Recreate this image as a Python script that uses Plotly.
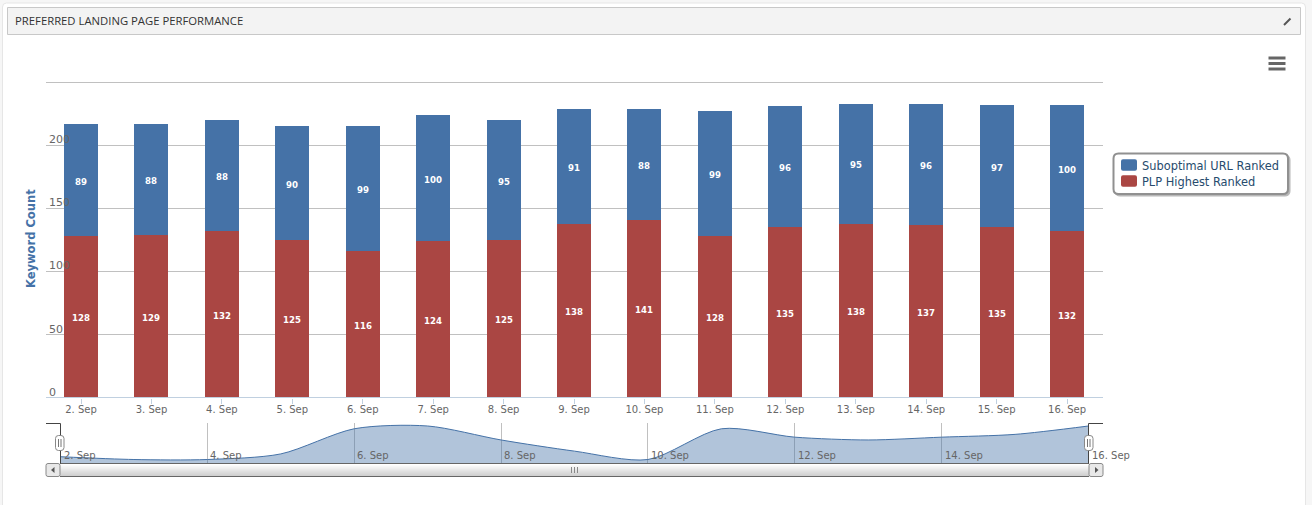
import plotly.graph_objects as go

categories = ["2. Sep","3. Sep","4. Sep","5. Sep","6. Sep","7. Sep","8. Sep","9. Sep","10. Sep","11. Sep","12. Sep","13. Sep","14. Sep","15. Sep","16. Sep"]
suboptimal = [89,88,88,90,99,100,95,91,88,99,96,95,96,97,100]
plp = [128,129,132,125,116,124,125,138,141,128,135,138,137,135,132]
y_ticks = [0,50,100,150,200,250]
y_tick_labels = ["0","50","100","150","200"]
nav_labels = categories[0::2]

W, H = 1312, 505
BLUE, RED = "#4572A7", "#AA4643"
FONT = "DejaVu Sans"

def px(x): return x / W
def py(y): return 1 - y / H

def rr(x0, y0, x1, y1, r):
    return (f"M{px(x0+r)},{py(y0)} L{px(x1-r)},{py(y0)} Q{px(x1)},{py(y0)} {px(x1)},{py(y0+r)} "
            f"L{px(x1)},{py(y1-r)} Q{px(x1)},{py(y1)} {px(x1-r)},{py(y1)} "
            f"L{px(x0+r)},{py(y1)} Q{px(x0)},{py(y1)} {px(x0)},{py(y1-r)} "
            f"L{px(x0)},{py(y0+r)} Q{px(x0)},{py(y0)} {px(x0+r)},{py(y0)} Z")

def rect(x0, y0, x1, y1, fill, line=None, lw=1, layer="below"):
    return dict(type="rect", xref="paper", yref="paper", x0=px(x0), x1=px(x1), y0=py(y1), y1=py(y0),
                fillcolor=fill, line=dict(color=line or fill, width=lw if line else 0), layer=layer)

def seg(x0, y0, x1, y1, color, lw=1, layer="above"):
    return dict(type="line", xref="paper", yref="paper", x0=px(x0), x1=px(x1), y0=py(y0), y1=py(y1),
                line=dict(color=color, width=lw), layer=layer)

def path(d, fill, line, lw=1, layer="above"):
    return dict(type="path", xref="paper", yref="paper", path=d, fillcolor=fill,
                line=dict(color=line, width=lw), layer=layer)

fig = go.Figure()
fig.add_bar(name="PLP Highest Ranked", x=categories, y=plp, marker_color=RED, marker_line_width=0,
            xaxis="x", yaxis="y", showlegend=False, width=0.483)
fig.add_bar(name="Suboptimal URL Ranked", x=categories, y=suboptimal, marker_color=BLUE, marker_line_width=0,
            xaxis="x", yaxis="y", showlegend=False, width=0.483)
# legend rows: two one-row legends give the tight row spacing; swatches are the rounded shapes below
hidden = dict(color="rgba(0,0,0,0)", opacity=0, line=dict(width=0, color="rgba(0,0,0,0)"))
fig.add_bar(name="Suboptimal URL Ranked", x=[None], y=[None], marker=hidden, legend="legend")
fig.add_bar(name="PLP Highest Ranked", x=[None], y=[None], marker=hidden, legend="legend2")
fig.add_scatter(x=categories, y=suboptimal, xaxis="x2", yaxis="y2", mode="lines", showlegend=False,
                line=dict(color=BLUE, width=1, shape="spline", smoothing=0.8),
                fill="tozeroy", fillcolor="rgba(69,114,167,0.42)", hoverinfo="skip")

shapes = [
    rect(0, 0, W, H, "#f6f6f6"),
    path(rr(2.5, 3, 1305.5, 520, 4), "#ffffff", "#e6e6e6", 1, "below"),
    rect(7.5, 7.5, 1300.5, 34.5, "#f3f3f3", "#c8c8c8"),
    seg(1284, 25, 1290.5, 18.5, "#555555", 2),
    seg(1268.5, 58, 1285.5, 58, "#666666", 3),
    seg(1268.5, 63.5, 1285.5, 63.5, "#666666", 3),
    seg(1268.5, 69, 1285.5, 69, "#666666", 3),
    path(rr(1115, 155, 1290, 196, 5), "#b8b8b8", "#b8b8b8", 1, "below"),
    path(rr(1113.5, 153.5, 1288, 194, 5), "#ffffff", "#909090", 2, "below"),
    path(rr(1121, 159.3, 1137, 170.7, 2), BLUE, BLUE, 0, "below"),
    path(rr(1121, 175.3, 1137, 186.7, 2), RED, RED, 0, "below"),
    seg(46, 397.5, 1103, 397.5, "#c0d0e0", 1),
]
bands = ["#ffffff", "#fbfbfb", "#f6f6f6", "#f2f2f2", "#eeeeee", "#e9e9e9", "#e5e5e5", "#e0e0e0", "#dcdcdc", "#d8d8d8", "#d4d4d4", "#d0d0d0", "#cccccc"]
for i, c in enumerate(bands):
    shapes.append(rect(60, 464 + i, 1089, 465 + i, c, layer="above"))
shapes += [
    seg(60, 463.5, 1089, 463.5, "#666666", 1),
    seg(60, 476.5, 1089, 476.5, "#666666", 1),
    path(rr(46, 463.5, 60, 476.5, 2), "#e8e8e8", "#888888", 1),
    path(rr(1089, 463.5, 1103, 476.5, 2), "#e8e8e8", "#888888", 1),
    path(f"M{px(54.5)},{py(467)} L{px(54.5)},{py(473)} L{px(51)},{py(470)} Z", "#555555", "#555555", 0),
    path(f"M{px(1095)},{py(467)} L{px(1095)},{py(473)} L{px(1098.5)},{py(470)} Z", "#555555", "#555555", 0),
    seg(571.5, 467, 571.5, 473, "#888888"),
    seg(574.5, 467, 574.5, 473, "#888888"),
    seg(577.5, 467, 577.5, 473, "#888888"),
    seg(46, 423.5, 60.5, 423.5, "#444444"),
    seg(60.5, 423.5, 60.5, 463.5, "#444444"),
    seg(1088.5, 423.5, 1103, 423.5, "#444444"),
    seg(1088.5, 423.5, 1088.5, 463.5, "#444444"),
    path(rr(55.5, 435.5, 64, 450.5, 3), "#ffffff", "#888888", 1),
    path(rr(1084.5, 435.5, 1093, 450.5, 3), "#ffffff", "#888888", 1),
    seg(58.5, 439, 58.5, 447, "#777777"),
    seg(61, 439, 61, 447, "#777777"),
    seg(1087.5, 439, 1087.5, 447, "#777777"),
    seg(1090, 439, 1090, 447, "#777777"),
]

annotations = [
    dict(text="PREFERRED LANDING PAGE PERFORMANCE", xref="paper", yref="paper", x=px(12.5), y=py(20),
         xanchor="left", yanchor="middle", showarrow=False, font=dict(family="Open Sans", size=11.3, color="#333333")),
]
for lab in nav_labels:
    annotations.append(dict(text=lab, xref="x2", yref="paper", x=lab, y=py(455), xanchor="left", yanchor="middle",
                            xshift=1, showarrow=False, font=dict(family=FONT, size=10, color="#666666")))
for v, lab in zip(y_ticks, y_tick_labels):
    annotations.append(dict(text=lab, xref="paper", yref="y", x=px(47), y=v, xanchor="left", yanchor="middle",
                            yshift=5.5, showarrow=False, font=dict(family=FONT, size=11, color="#666666")))
label_font = dict(family=FONT, size=8.6, color="white", weight="bold")
for c, r, b in zip(categories, plp, suboptimal):
    annotations.append(dict(text=str(r), x=c, y=r / 2, xref="x", yref="y", showarrow=False, yshift=-1.5, font=label_font))
    annotations.append(dict(text=str(b), x=c, y=r + b / 2, xref="x", yref="y", showarrow=False, yshift=-1.5, font=label_font))

legend_common = dict(xanchor="left", yanchor="middle", bgcolor="rgba(0,0,0,0)", borderwidth=0,
                     font=dict(family=FONT, size=11.4, color="#274b6d"))

fig.update_layout(
    width=W, height=H, autosize=False, margin=dict(l=0, r=0, t=0, b=0),
    paper_bgcolor="#ffffff", plot_bgcolor="rgba(0,0,0,0)", barmode="stack",
    font=dict(family=FONT, size=10, color="#666666"),
    shapes=shapes, annotations=annotations, showlegend=True,
    xaxis=dict(domain=[px(46), px(1103)], anchor="y", type="category", range=[-0.497, 14.51],
               categoryorder="array", categoryarray=categories,
               showgrid=False, showline=False, zeroline=False,
               ticks="outside", ticklen=5, tickcolor="#c0d0e0", tickwidth=1, ticklabelstandoff=-3,
               tickfont=dict(family=FONT, size=10, color="#666666"), tickangle=0),
    yaxis=dict(domain=[py(397.6), py(79.8)], anchor="x", range=[0, 252], tickmode="array",
               tickvals=y_ticks, showticklabels=False,
               showgrid=True, gridcolor="#c0c0c0", gridwidth=1, zeroline=False, ticks="",
               title=dict(text="<b>Keyword Count</b>", standoff=6, font=dict(family=FONT, size=11.5, color="#4572A7"))),
    xaxis2=dict(domain=[px(60.5), px(1088.5)], anchor="y2", type="category", range=[0, 14],
                categoryorder="array", categoryarray=categories,
                tickmode="array", tickvals=nav_labels, showticklabels=False, ticks="",
                showgrid=True, gridcolor="#c0c0c0", gridwidth=1, zeroline=False, showline=False),
    yaxis2=dict(domain=[py(463), py(423)], anchor="x2", range=[86.75, 101.07], visible=False),
    legend=dict(x=px(1102), y=py(165.5), **legend_common),
    legend2=dict(x=px(1102), y=py(181.5), **legend_common),
)

fig.write_html("out.html", config={"displayModeBar": False},
               post_script="document.body.style.margin='0';document.body.style.overflow='hidden';")
